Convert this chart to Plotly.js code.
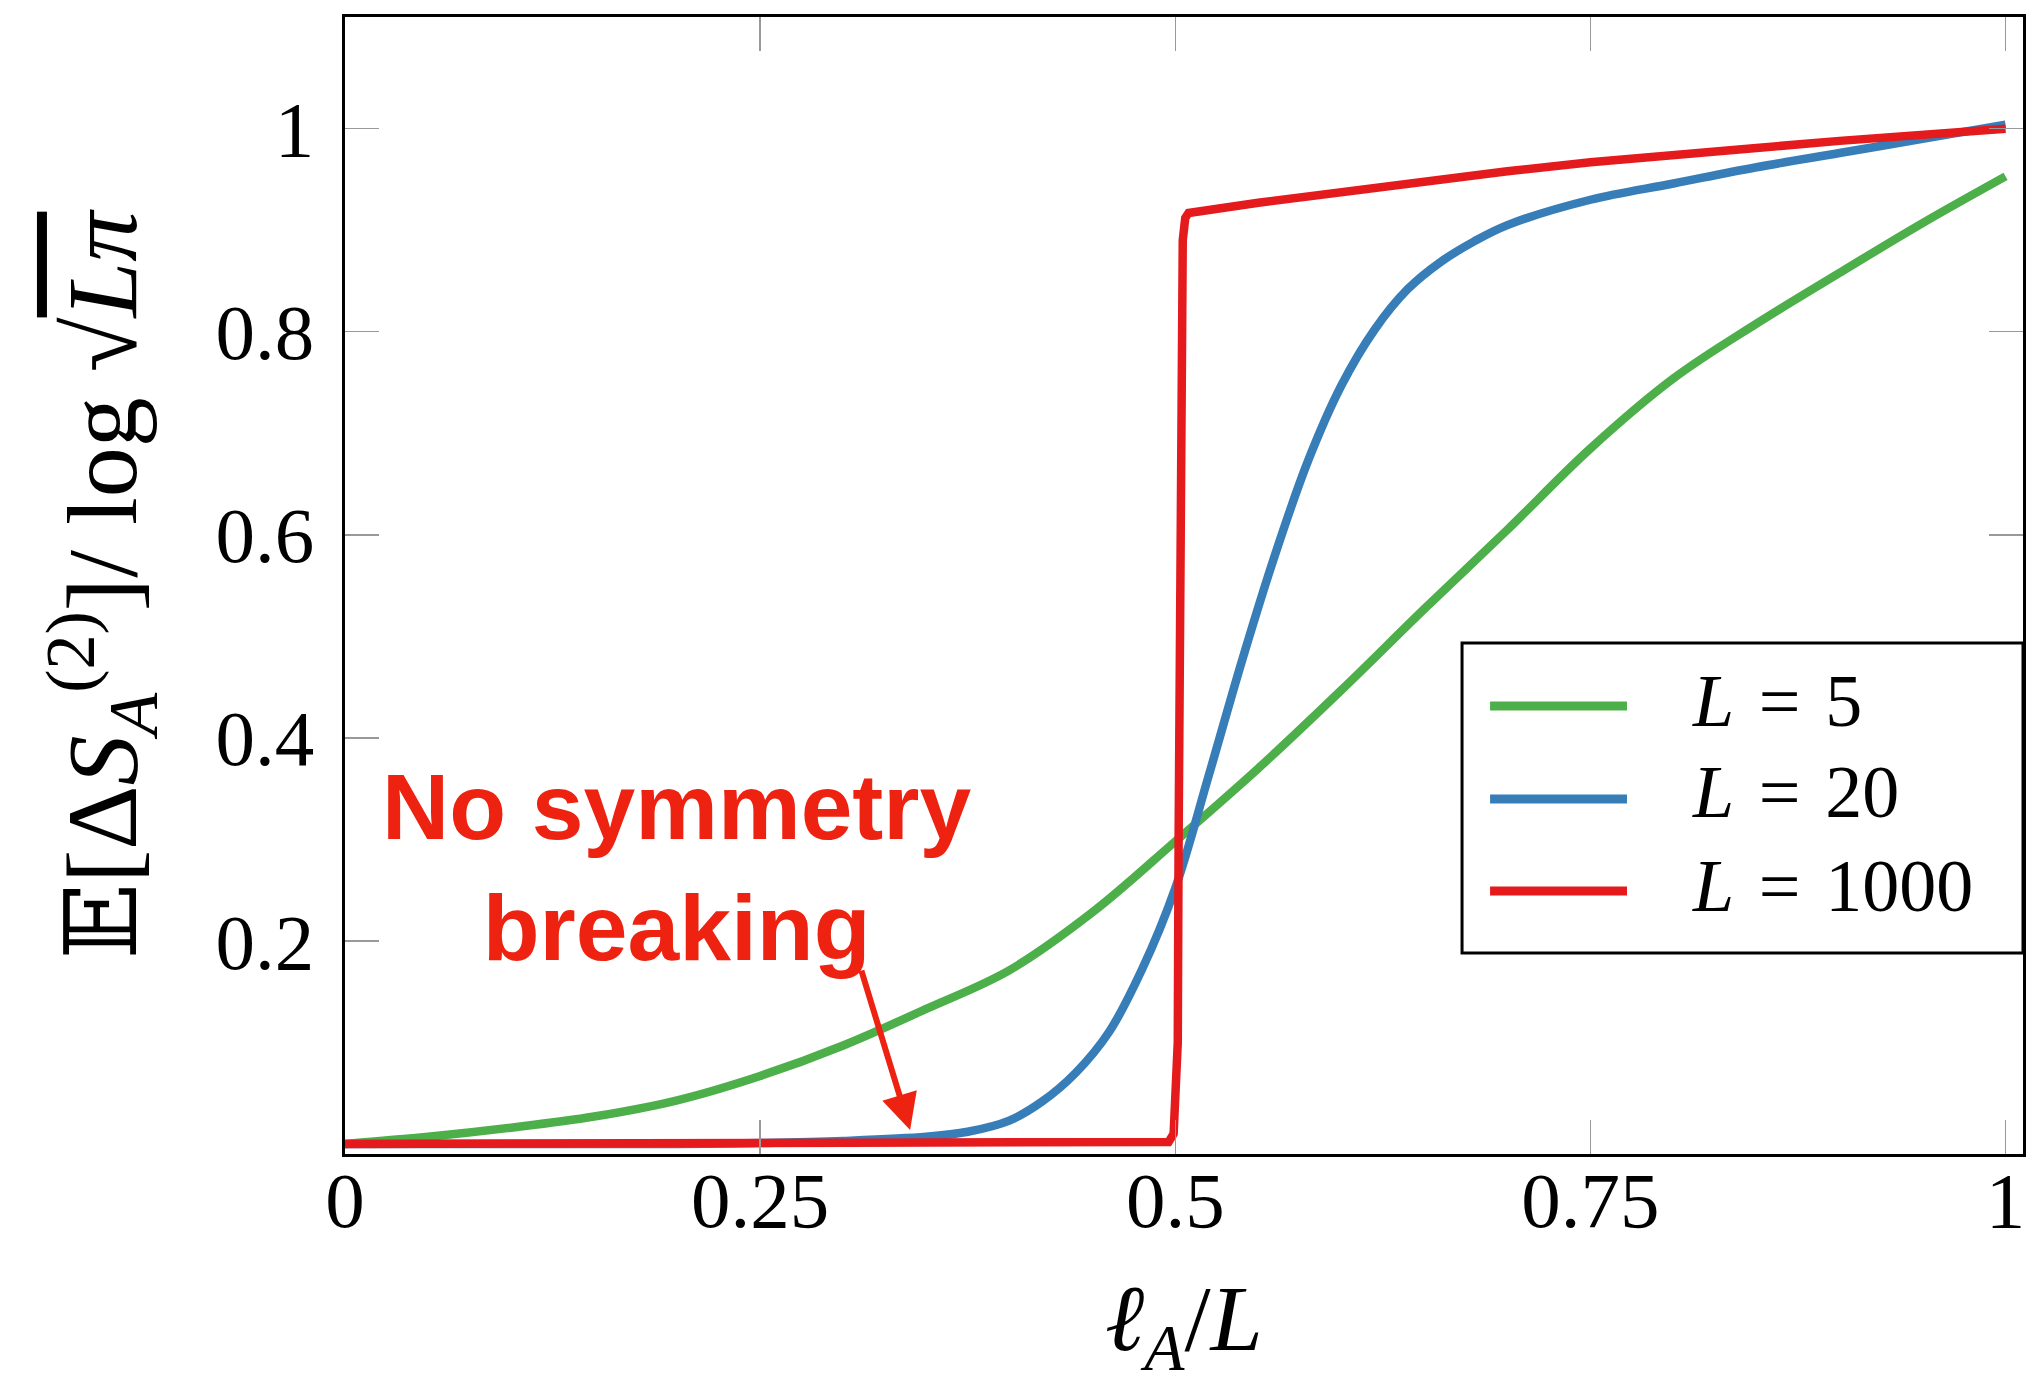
<!DOCTYPE html>
<html>
<head>
<meta charset="utf-8">
<script src="https://cdn.plot.ly/plotly-3.0.1.min.js"></script>
<style>html,body{margin:0;padding:0;background:#fff;}</style>
</head>
<body>
<div id="chart" style="width:2044px;height:1384px;"></div>
<script>
// ---- data ----
const seriesNames = ["L = 5", "L = 20", "L = 1000"];
const seriesColors = ["#4daf4a", "#377eb8", "#e41a1c"];

const xL5 = [0, 0.05, 0.1, 0.15, 0.2, 0.25, 0.3, 0.35, 0.4, 0.45, 0.5, 0.55, 0.6, 0.65, 0.7, 0.75, 0.8, 0.85, 0.9, 0.95, 1.0];
const yL5 = [0.0, 0.007, 0.016, 0.027, 0.043, 0.067, 0.097, 0.133, 0.171, 0.228, 0.298, 0.37, 0.447, 0.527, 0.605, 0.685, 0.754, 0.808, 0.858, 0.907, 0.953];

const xL20 = [0, 0.1, 0.2, 0.25, 0.3, 0.35, 0.375, 0.4, 0.42, 0.44, 0.46, 0.48, 0.5, 0.52, 0.54, 0.56, 0.58, 0.6, 0.62, 0.64, 0.66, 0.68, 0.7, 0.75, 0.8, 0.85, 0.9, 0.95, 1.0];
const yL20 = [0, 0.0, 0.0, 0.001, 0.003, 0.007, 0.012, 0.023, 0.042, 0.07, 0.11, 0.172, 0.252, 0.362, 0.475, 0.58, 0.673, 0.747, 0.802, 0.842, 0.869, 0.889, 0.905, 0.93, 0.946, 0.962, 0.976, 0.99, 1.004];

const xL1000 = [0, 0.49, 0.496, 0.499, 0.5015, 0.502, 0.5025, 0.503, 0.504, 0.5045, 0.506, 0.508, 0.55, 0.6, 0.65, 0.7, 0.75, 0.8, 0.85, 0.9, 0.95, 1.0];
const yL1000 = [0, 0, 0.002, 0.01, 0.1, 0.3, 0.5, 0.7, 0.85, 0.89, 0.912, 0.917, 0.927, 0.938, 0.948, 0.958, 0.967, 0.975, 0.981, 0.988, 0.994, 1.0];

const xTickVals = [0, 0.25, 0.5, 0.75, 1];
const xTickText = ["0", "0.25", "0.5", "0.75", "1"];
const yTickVals = [0.2, 0.4, 0.6, 0.8, 1];
const yTickText = ["0.2", "0.4", "0.6", "0.8", "1"];

const noteText = "No symmetry<br>breaking";
const notePos = [0.2002, 0.272];
const arrowHead = [0.3403, 0.0138];
const arrowTail = [0.3107, 0.1721];

// ---- figure ----
const serif = "Liberation Serif, DejaVu Serif, serif";
const lw = 8.5;
const traces = [
  {x: xL5, y: yL5, mode: "lines", name: seriesNames[0], line: {color: seriesColors[0], width: lw, shape: "spline", smoothing: 1}, showlegend: false},
  {x: xL20, y: yL20, mode: "lines", name: seriesNames[1], line: {color: seriesColors[1], width: lw, shape: "spline", smoothing: 1}, showlegend: false},
  {x: xL1000, y: yL1000, mode: "lines", name: seriesNames[2], line: {color: seriesColors[2], width: lw, shape: "linear"}, showlegend: false}
];

// custom legend (box, samples, labels) in paper coordinates
const legBox = {x0: 0.6657, x1: 1.0, y0: 0.1768, y1: 0.4494};
const legLineX = [0.6824, 0.764];
const legRowY = [0.394, 0.3122, 0.2313];
const legTextY = [0.3984, 0.3184, 0.2357];
const legTextX = 0.8015;

const shapes = [{type: "rect", xref: "paper", yref: "paper", x0: legBox.x0, x1: legBox.x1, y0: legBox.y0, y1: legBox.y1,
  line: {color: "black", width: 3}, fillcolor: "white", layer: "above"}];
const annotations = [];
seriesNames.forEach((nm, i) => {
  shapes.push({type: "line", xref: "paper", yref: "paper", x0: legLineX[0], x1: legLineX[1], y0: legRowY[i], y1: legRowY[i],
    line: {color: seriesColors[i], width: 9}, layer: "above"});
  const parts = nm.split(" = ");
  annotations.push({xref: "paper", yref: "paper", x: legTextX, y: legTextY[i], xanchor: "left", yanchor: "middle",
    text: "<i>" + parts[0] + "</i>\u2004=\u2004" + parts[1], showarrow: false, font: {family: serif, size: 74, color: "black"}});
});
annotations.push({x: notePos[0], y: notePos[1], xref: "x", yref: "y", xanchor: "center", yanchor: "middle",
  text: noteText, showarrow: false, font: {family: "Liberation Sans, Arial, sans-serif", size: 93, color: "#ee2211", weight: 700}});
annotations.push({x: arrowHead[0], y: arrowHead[1], ax: arrowTail[0], ay: arrowTail[1], xref: "x", yref: "y", axref: "x", ayref: "y",
  text: "", showarrow: true, arrowhead: 2, arrowsize: 1.2, arrowwidth: 6, arrowcolor: "#ee2211", standoff: 0});

const axisCommon = {
  showgrid: false, zeroline: false, showline: true, linecolor: "black", linewidth: 3, mirror: "ticks",
  ticks: "inside", ticklen: 34, tickwidth: 1.5, tickcolor: "#999999",
  tickfont: {family: serif, size: 79, color: "black"}
};

const layout = {
  width: 2044, height: 1384,
  margin: {l: 345, r: 21, t: 17, b: 230, pad: 0},
  paper_bgcolor: "white", plot_bgcolor: "white",
  showlegend: false,
  xaxis: Object.assign({}, axisCommon, {
    range: [0, 1.0105], tickmode: "array", tickvals: xTickVals, ticktext: xTickText, ticklabelstandoff: -25,
    title: {text: "<i>ℓ</i><sub><i>A</i></sub>/<i>L</i>", font: {family: serif, size: 94, color: "black"}, standoff: 90}
  }),
  yaxis: Object.assign({}, axisCommon, {
    range: [-0.0099, 1.110], tickmode: "array", tickvals: yTickVals, ticktext: yTickText, ticklabelstandoff: 12,
    title: {text: "𝔼[Δ<i>S</i><sub><i>A</i></sub><sup>(2)</sup>]/ log √<span style=\"text-decoration:overline\"><i>Lπ</i></span>",
      font: {family: serif, size: 100, color: "black"}, standoff: 46}
  }),
  shapes: shapes,
  annotations: annotations
};

Plotly.newPlot("chart", traces, layout, {staticPlot: true, displayModeBar: false});
</script>
</body>
</html>
